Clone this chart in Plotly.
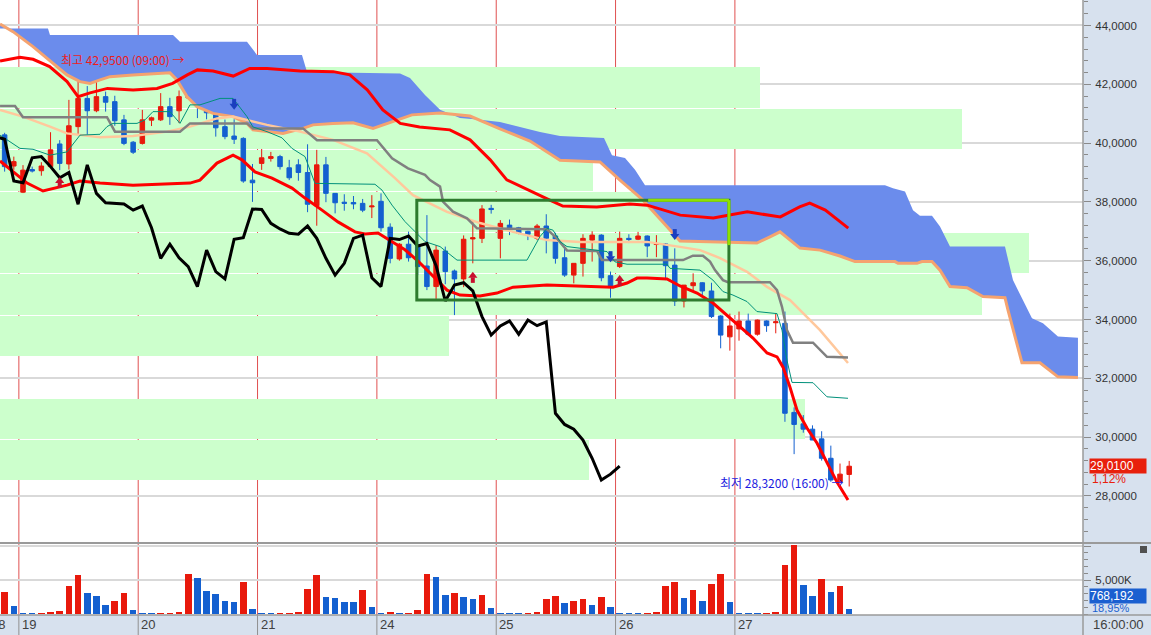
import plotly.graph_objects as go

# ---------------- data (hourly bars 04:00-16:00, index 0 = first bar of day 19) ----------------
FIRST_BAR = -2
opens = [40.28, 39.22, 38.33, 39.10, 39.06, 39.20, 39.97, 39.29, 40.56, 41.52, 41.10, 41.58, 41.41, 40.79, 40.03,
         39.99, 40.78, 40.79, 41.24, 41.10, 41.54, 42.69, 42.45, 41.05, 40.56, 40.24, 40.16, 38.74,
         39.31, 39.48, 39.54, 39.16, 39.26, 39.00, 37.87, 39.26, 38.29, 37.99, 37.98, 37.95, 37.83,
         38.02, 37.14, 36.06, 36.56, 36.53, 35.82, 35.12, 36.33, 35.65, 35.38, 36.74, 36.76, 37.78,
         36.76, 37.21, 37.12, 37.00, 36.76, 37.18, 36.84, 36.10, 35.51, 35.91, 36.70, 36.87, 35.49,
         35.80, 36.76, 36.73, 36.84, 36.55, 36.57, 35.85, 34.63, 35.15, 35.25, 34.97, 34.12, 33.41,
         33.68, 33.95, 33.50, 33.95, 33.89, 33.87, 30.84, 30.45, 30.27, 29.94, 29.28, 28.48, 28.73]
highs = [40.35, 39.54, 39.25, 39.20, 39.35, 40.37, 40.10, 41.47, 42.20, 41.94, 42.49, 41.75, 41.61, 40.96, 40.07,
         41.13, 40.90, 41.70, 41.54, 41.79, 42.95, 42.75, 42.50, 41.41, 40.80, 40.81, 40.20, 39.29,
         39.80, 39.70, 39.60, 39.43, 39.45, 39.96, 39.77, 39.53, 38.30, 38.26, 38.20, 38.10, 38.23,
         38.29, 37.27, 36.60, 36.99, 36.99, 37.55, 36.53, 36.48, 35.70, 36.86, 37.35, 37.89, 37.90,
         37.38, 37.40, 37.15, 37.02, 37.25, 37.58, 36.95, 36.42, 35.91, 36.90, 37.00, 36.90, 35.63,
         36.99, 36.90, 36.98, 36.86, 36.87, 36.60, 36.42, 35.17, 35.57, 35.27, 35.25, 34.15, 34.20,
         34.27, 34.20, 34.00, 33.97, 34.20, 34.27, 31.01, 30.75, 30.40, 30.20, 29.71, 29.10, 29.19]
lows = [39.03, 39.09, 38.30, 39.00, 38.89, 39.15, 39.08, 39.10, 40.28, 40.28, 41.05, 41.07, 40.59, 39.93, 39.63,
        39.95, 40.58, 40.75, 40.62, 40.68, 41.50, 40.85, 40.81, 40.22, 40.13, 39.97, 38.65, 38.00,
        39.09, 39.37, 39.10, 38.74, 38.72, 37.65, 37.19, 37.99, 37.61, 37.70, 37.75, 37.65, 37.45,
        36.99, 35.91, 36.00, 35.97, 35.51, 35.00, 34.70, 35.20, 34.15, 35.10, 35.91, 36.60, 37.60,
        36.08, 36.87, 36.90, 36.70, 36.70, 36.25, 35.90, 35.45, 35.23, 35.46, 35.97, 35.30, 34.74,
        35.75, 36.60, 36.70, 36.12, 36.12, 35.34, 34.46, 34.41, 34.98, 34.80, 34.05, 33.02, 32.94,
        33.28, 33.45, 33.45, 33.58, 33.53, 30.52, 29.42, 30.15, 29.90, 29.20, 28.48, 28.45, 28.32]
closes = [39.20, 39.37, 39.08, 39.05, 39.22, 39.77, 39.31, 40.59, 41.52, 41.10, 41.58, 41.39, 40.76, 39.99, 39.69,
          40.79, 40.86, 41.24, 40.90, 41.58, 42.69, 42.45, 41.03, 40.52, 40.22, 40.13, 38.71, 38.65,
          39.50, 39.54, 39.20, 38.82, 39.00, 37.92, 39.26, 38.29, 37.97, 37.95, 37.93, 37.72, 37.86,
          37.12, 36.08, 36.56, 36.10, 35.80, 35.12, 36.36, 35.63, 35.38, 36.73, 36.78, 37.76, 37.74,
          37.27, 37.08, 36.93, 36.90, 37.18, 36.76, 36.08, 35.51, 35.91, 36.76, 36.87, 35.42, 35.12,
          36.76, 36.72, 36.84, 36.50, 36.58, 35.83, 34.63, 35.17, 35.25, 34.97, 34.10, 33.47, 33.78,
          33.95, 33.50, 33.98, 33.79, 33.92, 30.81, 30.43, 30.27, 29.90, 29.28, 28.54, 28.74, 29.01]
volumes_k = [3220, 1200, 100, 90, 110, 290, 480, 4180, 5670, 3080, 2640, 1350, 1920, 3080, 625,
             100, 90, 110, 130, 340, 5820, 5240, 3370, 2930, 1920, 1780, 4660, 720,
             100, 90, 110, 130, 340, 3650, 5670, 2500, 2360, 1780, 1760, 3510, 1060,
             100, 330, 90, 120, 620, 5820, 5480, 2740, 3080, 2500, 2210, 2790, 910,
             100, 90, 80, 110, 330, 2210, 2640, 1630, 1920, 2250, 1370, 2550, 1080,
             80, 70, 60, 100, 340, 4170, 4750, 2400, 3580, 1960, 4460, 5930, 1810,
             80, 70, 60, 100, 250, 7160, 10200, 4310, 2700, 5200, 3280, 4170, 768]

day_labels = ["18", "19", "20", "21", "24", "25", "26", "27"]
day_first_bar = [-13, 0, 13, 26, 39, 52, 65, 78]
CHIKOU_SHIFT = 25

# Bollinger-style channel (thick red lines)
bb_up_x = [-2.5, -0.33, 1.1, 2.9, 4.8, 6.0, 7.3, 9.2, 12.0, 14.6, 16.3, 17.9, 19.0, 20.7, 22.9, 24.7, 26.6, 30.2,
           33.8, 35.6, 37.5, 39.2, 41.1, 43.2, 46.5, 48.7, 50.9, 52.7, 57.1, 58.8, 62.5, 66.1, 68.0, 69.7, 71.6,
           75.2, 77.0, 78.9, 82.5, 84.6, 85.7, 87.4, 89.9]
bb_up_y = [42.79, 42.92, 42.85, 42.60, 42.09, 41.58, 41.71, 41.86, 41.81, 41.86, 42.03, 42.32, 42.49, 42.45, 42.28,
           42.54, 42.54, 42.45, 42.43, 42.32, 41.81, 41.13, 40.67, 40.55, 40.45, 40.11, 39.43, 38.75, 38.10, 37.86,
           37.83, 37.93, 37.89, 37.72, 37.55, 37.45, 37.55, 37.66, 37.49, 37.83, 37.96, 37.72, 37.11]
bb_lo_x = [-2.5, 0.44, 2.18, 4.79, 6.21, 8.39, 11.98, 18.19, 19.28, 21.13, 22.88, 23.86, 25.27, 27.12, 29.3, 30.72,
           32.57, 34.31, 36.17, 37.25, 38.67, 40.2, 41.61, 43.03, 45.1, 46.19, 47.6, 49.78, 51.63, 53.38, 57.08,
           61.44, 64.27, 65.8, 66.89, 67.98, 70.15, 71.57, 73.42, 75.16, 77.34, 79.52, 81.05, 82.14, 82.79, 83.55,
           84.31, 85.4, 86.49, 87.58, 88.67, 89.87]
bb_lo_y = [39.39, 38.64, 38.37, 38.57, 38.71, 38.64, 38.57, 38.64, 38.74, 39.32, 39.59, 39.43, 39.02, 38.81, 38.47,
           38.13, 37.72, 37.32, 36.98, 36.91, 36.94, 36.64, 36.37, 35.99, 35.34, 35.00, 34.83, 34.80, 34.90, 35.10,
           35.17, 35.14, 35.10, 35.24, 35.41, 35.41, 35.38, 35.14, 34.90, 34.56, 33.98, 33.37, 32.86, 32.73, 32.38,
           31.70, 30.92, 30.31, 29.80, 29.12, 28.47, 27.86]

# Ichimoku base line (gray) and conversion line (teal)
kijun_x = [-2.5, -0.87, 0.0, 9.15, 10.02, 17.1, 18.19, 24.4, 25.05, 30.5, 32.03, 38.56, 40.2, 41.94, 43.79, 44.34,
           45.43, 45.75, 46.84, 48.37, 49.46, 57.08, 58.17, 59.26, 62.53, 63.07, 71.9, 72.98, 74.07, 74.84, 75.38,
           76.25, 76.8, 81.37, 82.14, 82.68, 83.22, 83.88, 86.06, 87.58, 89.87]
kijun_y = [41.26, 41.26, 40.88, 40.88, 40.39, 40.39, 40.67, 40.67, 40.50, 40.50, 40.10, 40.10, 39.48, 39.14, 38.92,
           38.74, 38.52, 38.01, 37.67, 37.44, 37.10, 37.07, 36.76, 36.35, 36.33, 36.02, 36.02, 36.17, 36.17, 35.97,
           35.68, 35.34, 35.27, 35.27, 35.00, 34.43, 33.64, 33.21, 33.21, 32.73, 32.71]
tenkan_x = [-2.5, -0.33, 1.09, 2.94, 4.79, 6.21, 8.39, 9.15, 9.8, 12.42, 13.29, 14.16, 16.01, 17.1, 18.19, 19.28,
            20.37, 21.46, 22.88, 23.42, 24.4, 25.05, 26.58, 28.21, 29.3, 30.72, 31.48, 31.81, 38.34, 39.11, 40.2,
            41.61, 42.7, 43.79, 45.43, 47.28, 54.9, 56.32, 57.08, 57.73, 58.5, 59.26, 62.09, 63.62, 64.49, 65.8,
            70.15, 70.48, 73.75, 75.16, 76.25, 77.34, 78.87, 79.95, 82.14, 82.68, 83.22, 83.77, 86.06, 87.58, 89.87]
tenkan_y = [40.27, 39.82, 39.79, 39.59, 39.70, 40.27, 40.30, 40.56, 40.67, 40.67, 40.79, 41.07, 41.07, 40.67, 41.30,
            41.30, 41.41, 41.52, 41.52, 41.30, 40.90, 40.55, 40.39, 40.18, 39.82, 39.54, 38.91, 38.63, 38.60, 38.40,
            37.89, 37.33, 36.99, 36.65, 36.48, 36.02, 36.02, 36.82, 37.10, 37.04, 36.65, 36.48, 36.37, 36.31, 35.96,
            35.88, 35.88, 35.74, 35.68, 35.34, 34.95, 34.83, 34.61, 34.27, 34.20, 33.64, 32.62, 31.86, 31.85, 31.37,
            31.32]

# moving average (light peach)
ma_x = [-2.5, 0.0, 2.94, 4.79, 8.39, 11.98, 15.69, 18.19, 21.13, 22.88, 26.58, 30.17, 33.77, 37.47, 40.52, 42.48,
        46.19, 49.78, 53.38, 57.08, 60.67, 67.98, 71.57, 73.75, 75.93, 78.87, 81.05, 83.55, 86.82, 89.87]
ma_y = [41.13, 40.90, 40.56, 40.33, 40.20, 40.24, 40.39, 40.56, 40.84, 40.90, 40.62, 40.39, 40.11, 39.65, 38.81,
        38.23, 37.66, 37.28, 36.98, 36.70, 36.64, 36.64, 36.47, 36.36, 36.09, 35.62, 35.11, 34.66, 33.64, 32.52]

# cloud: leading span B (upper edge) and leading span A (lower edge, orange)
span_b_x = [-2.5, 2.72, 2.94, 16.34, 17.1, 24.4, 25.49, 30.39, 30.94, 41.07, 42.16, 43.79, 45.43, 47.6, 49.78,
            51.96, 54.14, 56.32, 58.5, 63.29, 64.16, 65.58, 66.67, 67.76, 93.9, 94.77, 96.08, 96.95, 97.71, 99.02,
            99.89, 100.98, 106.97, 107.84, 109.91, 111.11, 112.74, 114.92]
span_b_y = [43.90, 43.90, 43.68, 43.68, 43.45, 43.45, 43.00, 43.00, 42.42, 42.37, 42.21, 41.64, 41.13, 40.85, 40.79,
            40.72, 40.55, 40.38, 40.24, 40.17, 39.59, 39.49, 39.09, 38.57, 38.57, 38.46, 38.35, 37.72, 37.53, 37.53,
            37.16, 36.48, 36.48, 35.34, 34.04, 33.87, 33.42, 33.38]
span_a_x = [-2.5, -1.09, 1.09, 3.27, 4.79, 6.21, 7.3, 8.39, 9.48, 11.98, 13.83, 16.01, 16.77, 17.86, 18.95, 20.7,
            22.88, 24.4, 25.05, 28.32, 30.5, 31.59, 33.77, 35.95, 38.13, 40.2, 42.37, 45.43, 48.69, 51.96, 55.23,
            58.5, 62.85, 65.03, 67.54, 71.57, 79.95, 81.37, 82.46, 84.64, 86.82, 88.99, 90.63, 94.99, 95.32, 97.38,
            97.93, 99.02, 99.89, 100.98, 102.83, 104.57, 106.97, 107.3, 108.82, 110.78, 112.74, 114.92]
span_a_y = [44.05, 43.79, 43.28, 42.71, 42.32, 42.09, 42.03, 42.15, 42.26, 42.32, 42.35, 42.39, 42.15, 41.58, 41.24,
            41.01, 40.90, 40.67, 40.45, 40.33, 40.50, 40.62, 40.67, 40.69, 40.50, 40.72, 40.96, 41.02, 40.92, 40.48,
            40.07, 39.42, 39.36, 38.74, 38.06, 36.67, 36.60, 36.81, 36.98, 36.43, 36.36, 36.16, 35.97, 35.97, 35.91,
            35.91, 35.97, 35.97, 35.68, 35.12, 35.08, 34.78, 34.74, 34.32, 32.53, 32.53, 32.05, 32.03]

# volume-at-price profile: 10 equal price bins from 28.51 to 42.59, bar right end in bar-index units
# (None = empty bin)
profile_low, profile_high = 28.51, 42.59
profile_right_edge = [61.7, 85.2, None, 46.4, 104.5, 109.6, 91.2, 62.1, 102.3, 80.3]

# signal arrows (tip price)
buy_bars = [4, 49, 65]
buy_tips = [38.85, 35.62, 35.51]
sell_bars = [23, 64, 71]
sell_tips = [41.13, 35.95, 36.70]

# user box annotation (bar index / price)
box_x = [42.9, 76.9]
box_y = [34.66, 38.06]
box_lime_from_x = 68.1
box_lime_to_y = 36.53

hi_bar, hi_val, hi_time = 18, 42.95, "09:00"
lo_bar, lo_val, lo_time = 90, 28.32, "16:00"
last_price, last_chg = 29.01, "1,12%"
last_vol, vol_chg = "768,192", "18,95%"

# ---------------- figure ----------------
RED = "#e8190c"
BLUE = "#1460d0"
X_MIN, X_MAX = -2.505, 115.47
Y_MIN, Y_MAX = 26.398, 44.867
XD = 1083 / 1151
PX = (Y_MAX - Y_MIN) / 543.0   # price per pixel in the price pane

bars = list(range(FIRST_BAR, FIRST_BAR + len(closes)))
fig = go.Figure()

# profile bands
n_bins = len(profile_right_edge)
bin_h = (profile_high - profile_low) / n_bins
prof_y = [profile_low + bin_h * (k + 0.5) for k in range(n_bins) if profile_right_edge[k] is not None]
prof_len = [r - X_MIN for r in profile_right_edge if r is not None]
fig.add_trace(go.Bar(orientation="h", y=prof_y, x=prof_len, base=X_MIN,
                     width=bin_h * 0.975, marker=dict(color="#ccffcc", line=dict(width=0)),
                     xaxis="x", yaxis="y", hoverinfo="skip", showlegend=False))

# cloud
fig.add_trace(go.Scatter(x=span_b_x, y=span_b_y, mode="lines", line=dict(width=0, color="#6b8cec"),
                         hoverinfo="skip", showlegend=False))
fig.add_trace(go.Scatter(x=span_a_x, y=span_a_y, mode="lines", line=dict(width=3, color="#f5a36f"),
                         fill="tonexty", fillcolor="#6b8cec", hoverinfo="skip", showlegend=False))

fig.add_trace(go.Scatter(x=ma_x, y=ma_y, mode="lines", line=dict(width=2.5, color="#ffc89c"), showlegend=False))
fig.add_trace(go.Scatter(x=kijun_x, y=kijun_y, mode="lines", line=dict(width=2.5, color="#808080"), showlegend=False))
fig.add_trace(go.Scatter(x=tenkan_x, y=tenkan_y, mode="lines", line=dict(width=1, color="#00907a"), showlegend=False))
fig.add_trace(go.Scatter(x=bb_up_x, y=bb_up_y, mode="lines", line=dict(width=3, color="#ff0000"), showlegend=False))
fig.add_trace(go.Scatter(x=bb_lo_x, y=bb_lo_y, mode="lines", line=dict(width=3, color="#ff0000"), showlegend=False))

# lagging span: closes shifted back
chikou_x = [b - CHIKOU_SHIFT for b in bars if b - CHIKOU_SHIFT >= FIRST_BAR - 1]
chikou_y = [c for b, c in zip(bars, closes) if b - CHIKOU_SHIFT >= FIRST_BAR - 1]
fig.add_trace(go.Scatter(x=chikou_x, y=chikou_y, mode="lines", line=dict(width=3, color="#000000"), showlegend=False))

fig.add_trace(go.Candlestick(x=bars, open=opens, high=highs, low=lows, close=closes,
                             increasing=dict(line=dict(color=RED, width=1), fillcolor=RED),
                             decreasing=dict(line=dict(color=BLUE, width=1), fillcolor=BLUE),
                             whiskerwidth=0, showlegend=False, hoverinfo="skip"))

vol_colors = [RED] + [RED if v > p else BLUE for p, v in zip(volumes_k[:-1], volumes_k[1:])]
fig.add_trace(go.Bar(x=bars, y=volumes_k, width=0.72, marker=dict(color=vol_colors, line=dict(width=0)),
                     xaxis="x", yaxis="y2", showlegend=False, hoverinfo="skip"))


# signal arrows: triangle head + short thick stem
def arrow_traces(bx, tips, direction, color):
    sgn = 1 if direction == "up" else -1
    head_y = [t - sgn * 4 * PX for t in tips]
    sx, sy = [], []
    for b, t in zip(bx, tips):
        sx += [b, b, None]
        sy += [t - sgn * 5.5 * PX, t - sgn * 11 * PX, None]
    fig.add_trace(go.Scatter(x=sx, y=sy, mode="lines", line=dict(width=4, color=color),
                             hoverinfo="skip", showlegend=False))
    fig.add_trace(go.Scatter(x=bx, y=head_y, mode="markers",
                             marker=dict(symbol="triangle-up" if direction == "up" else "triangle-down",
                                         size=8, color=color, line=dict(width=0)),
                             hoverinfo="skip", showlegend=False))


arrow_traces(buy_bars, buy_tips, "up", "#c8102e")
arrow_traces(sell_bars, sell_tips, "down", "#1a3fbf")

shapes = []
# day separator lines
for fb in day_first_bar:
    xl = fb - 0.45
    if X_MIN <= xl <= X_MAX:
        shapes.append(dict(type="line", xref="x", yref="paper", x0=xl, x1=xl, y0=0.0315, y1=1,
                           line=dict(color="#e05050", width=1), layer="below"))
        shapes.append(dict(type="line", xref="x", yref="paper", x0=xl, x1=xl, y0=0, y1=0.0315,
                           line=dict(color="#909090", width=1), layer="above"))
# pane separators
shapes.append(dict(type="line", xref="paper", yref="paper", x0=0, x1=1, y0=(635 - 543) / 635, y1=(635 - 543) / 635,
                   line=dict(color="#9a9a9a", width=2)))
shapes.append(dict(type="line", xref="paper", yref="paper", x0=0, x1=1, y0=(635 - 615) / 635, y1=(635 - 615) / 635,
                   line=dict(color="#9a9a9a", width=1.5)))
shapes.append(dict(type="line", xref="paper", yref="paper", x0=XD, x1=XD, y0=0, y1=1,
                   line=dict(color="#9a9a9a", width=1.5)))
# user box
shapes.append(dict(type="rect", xref="x", yref="y", x0=box_x[0], x1=box_x[1], y0=box_y[0], y1=box_y[1],
                   line=dict(color="#2e7b2e", width=3)))
shapes.append(dict(type="line", xref="x", yref="y", x0=box_lime_from_x, x1=box_x[1], y0=box_y[1], y1=box_y[1],
                   line=dict(color="#8fe000", width=3)))
shapes.append(dict(type="line", xref="x", yref="y", x0=box_x[1], x1=box_x[1], y0=box_lime_to_y, y1=box_y[1],
                   line=dict(color="#8fe000", width=3)))
# small icon in volume pane
shapes.append(dict(type="rect", xref="paper", yref="paper", x0=1140 / 1151, x1=1147 / 1151,
                   y0=(635 - 553) / 635, y1=(635 - 546) / 635, fillcolor="#505050", line=dict(width=0)))

LBL_Y = (635 - 624) / 635
LBL_FONT = dict(family="Liberation Sans", size=13, color="#404040")
ann = []
for i, lab in enumerate(day_labels):
    xl = day_first_bar[i] - 0.45
    if i == 0:
        ann.append(dict(x=FIRST_BAR + 0.3, xref="x", y=LBL_Y, yref="paper", text=lab, showarrow=False,
                        xanchor="right", yanchor="middle", font=LBL_FONT))
    else:
        ann.append(dict(x=xl, xref="x", y=LBL_Y, yref="paper", text=lab, showarrow=False,
                        xanchor="left", yanchor="middle", xshift=1, font=LBL_FONT))
ann.append(dict(x=1118 / 1151, xref="paper", y=LBL_Y, yref="paper", text="16:00:00", showarrow=False,
                xanchor="center", yanchor="middle", font=LBL_FONT))
ann.append(dict(x=hi_bar - 0.15, y=hi_val - 0.12, xref="x", yref="y", xanchor="right", yanchor="middle",
                showarrow=False, text=f"최고 {hi_val:.4f}".replace(".", ",") + f" ({hi_time}) →",
                font=dict(family="Noto Sans CJK KR", size=12, color="#ee1c1c")))
ann.append(dict(x=lo_bar - 0.3, y=lo_val + 0.15, xref="x", yref="y", xanchor="right", yanchor="middle",
                showarrow=False, text=f"최저 {lo_val:.4f}".replace(".", ",") + f" ({lo_time}) →",
                font=dict(family="Noto Sans CJK KR", size=12, color="#1a1ae0")))
ann.append(dict(x=1089 / 1151, xref="paper", y=last_price, yref="y", xanchor="left", yanchor="middle",
                showarrow=False, text=f"{last_price:.4f}".replace(".", ","), bgcolor="#e8200c", width=56,
                align="left", borderpad=0, font=dict(family="Liberation Sans", size=12, color="white")))
ann.append(dict(x=1090 / 1151, xref="paper", y=last_price - 0.44, yref="y", xanchor="left", yanchor="middle",
                showarrow=False, text=last_chg, font=dict(family="Liberation Sans", size=12, color="#e8200c")))
ann.append(dict(x=1089 / 1151, xref="paper", y=2700, yref="y2", xanchor="left", yanchor="middle",
                showarrow=False, text=last_vol, bgcolor="#1a5fd0", width=56, align="left", borderpad=0,
                font=dict(family="Liberation Sans", size=12, color="white")))
ann.append(dict(x=1090 / 1151, xref="paper", y=950, yref="y2", xanchor="left", yanchor="middle",
                showarrow=False, text=vol_chg, font=dict(family="Liberation Sans", size=11, color="#1a5fd0")))

price_ticks = list(range(28, 45, 2))
fig.update_layout(
    width=1151, height=635, margin=dict(l=0, r=0, t=0, b=0),
    paper_bgcolor="#d7e1ee", plot_bgcolor="#ffffff",
    showlegend=False, hovermode=False, boxgap=0.3, bargap=0,
    xaxis=dict(domain=[0, XD], range=[X_MIN, X_MAX], showgrid=False, zeroline=False, showticklabels=False,
               ticks="", showline=False, rangeslider=dict(visible=False), fixedrange=True),
    yaxis=dict(domain=[(635 - 543) / 635, 1], range=[Y_MIN, Y_MAX], side="right", anchor="x",
               tickmode="array", tickvals=price_ticks, ticktext=[f"{v},0000" for v in price_ticks],
               showgrid=True, gridcolor="#d9d9d9", gridwidth=1.5, zeroline=False,
               ticks="outside", ticklen=7, tickcolor="#8a8a8a", tickwidth=1, ticklabelstandoff=2,
               minor=dict(dtick=0.4, tick0=0, ticks="outside", ticklen=4, tickcolor="#8a8a8a", showgrid=False),
               showline=False, tickfont=dict(family="Liberation Sans", size=11.5, color="#333333")),
    yaxis2=dict(domain=[(635 - 615) / 635, (635 - 544) / 635], range=[-147, 10294], side="right", anchor="x",
                tickmode="array", tickvals=[5000, 10000], ticktext=["5,000K", ""],
                showgrid=True, gridcolor="#d9d9d9", gridwidth=1.5, zeroline=False,
                ticks="outside", ticklen=7, tickcolor="#8a8a8a", ticklabelstandoff=2,
                minor=dict(dtick=1000, tick0=0, ticks="outside", ticklen=4, tickcolor="#8a8a8a", showgrid=False),
                showline=False, tickfont=dict(family="Liberation Sans", size=11.5, color="#333333")),
    shapes=shapes, annotations=ann,
)

fig.write_html("out.html", config={"displayModeBar": False},
               post_script="document.body.style.margin='0px';")
